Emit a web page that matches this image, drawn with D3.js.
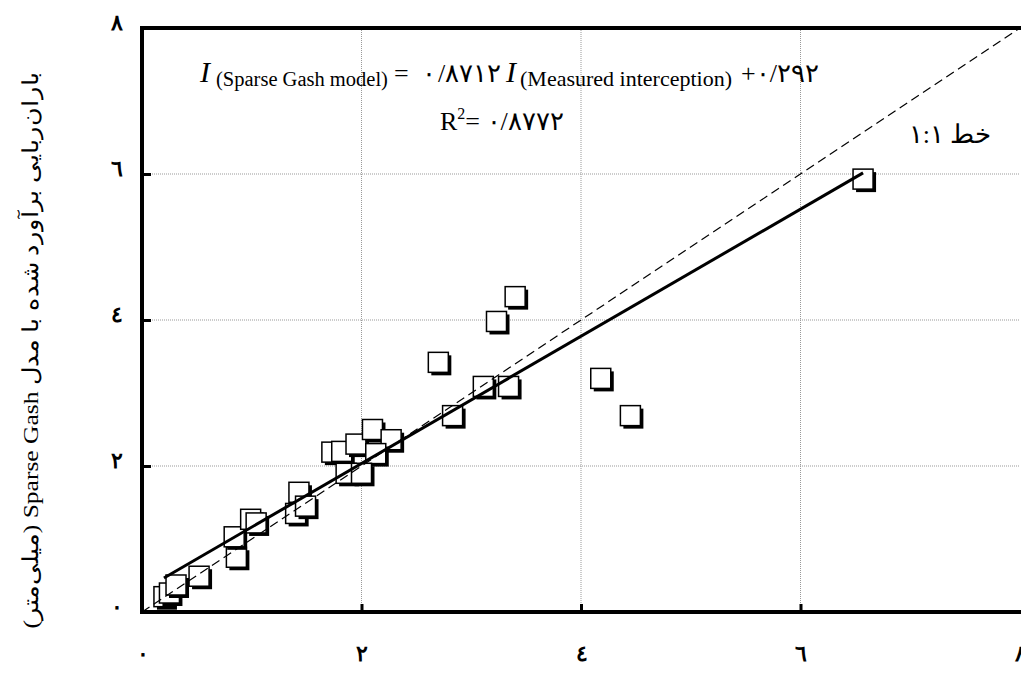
<!DOCTYPE html>
<html>
<head>
<meta charset="utf-8">
<script src="https://cdn.jsdelivr.net/npm/d3@7"></script>
<style>
  body { margin: 0; background: #fff; }
  svg { display: block; }
  text { font-family: "Liberation Serif", "DejaVu Serif", serif; }
</style>
</head>
<body>
<script>
"use strict";

// Data

const measured = [0.20, 0.25, 0.31, 0.52, 0.86, 0.84, 0.99, 1.04, 1.43, 1.40, 1.49,
    1.73, 1.82, 1.95, 2.10, 2.27, 2.13, 1.86, 2.00, 2.70, 3.23, 3.40, 3.11, 3.34,
    2.83, 4.18, 4.45, 6.57];
const modelled = [0.21, 0.26, 0.37, 0.49, 0.75, 1.03, 1.27, 1.22, 1.64, 1.35, 1.45,
    2.19, 2.20, 2.30, 2.50, 2.36, 2.17, 1.90, 1.90, 3.42, 3.98, 4.32, 3.09, 3.09,
    2.69, 3.20, 2.69, 5.93];
const slope = 0.8712;
const intercept = 0.292;
const r2Value = 0.8772;
const tickValues = [0, 2, 4, 6, 8];
const gridValues = [2, 4, 6];

const arabicDigits = '٠١٢٣٤٥٦٧٨٩';
const toArabic = v => String(v).replace(/[0-9]/g, c => arabicDigits[+c]);
// decimals written as ٠/٨٧١٢
const decimal = v => toArabic(String(v).replace('.', '/'));

// Size parameters

const width = 1021;
const height = 688;
const plotLeft = 142;
const plotRight = 1020;
const plotTop = 28;
const plotBottom = 612;
const boxSize = 20;
const shadow = 3;

const svg = d3.select('body')
    .append('svg')
    .attr('width', width)
    .attr('height', height);

const x = d3.scaleLinear().domain([0, 8]).range([plotLeft, plotRight]);
const y = d3.scaleLinear().domain([0, 8]).range([plotBottom, plotTop]);

/*********
 * Grid  *
 *********/

svg.append('g')
    .selectAll('line')
    .data(gridValues)
    .enter()
    .append('line')
    .attr('x1', d => x(d)).attr('x2', d => x(d))
    .attr('y1', plotTop).attr('y2', plotBottom)
    .attr('stroke', '#999')
    .attr('stroke-dasharray', '1,1');

svg.append('g')
    .selectAll('line')
    .data(gridValues)
    .enter()
    .append('line')
    .attr('x1', plotLeft).attr('x2', plotRight)
    .attr('y1', d => y(d)).attr('y2', d => y(d))
    .attr('stroke', '#999')
    .attr('stroke-dasharray', '1,1');

/**********
 * Points *
 **********/

const points = measured.map((m, i) => [m, modelled[i]]);

const pts = svg.append('g')
    .selectAll('g')
    .data(points)
    .enter()
    .append('g');

pts.append('rect')
    .attr('x', d => x(d[0]) - boxSize / 2 + shadow)
    .attr('y', d => y(d[1]) - boxSize / 2 + shadow)
    .attr('width', boxSize)
    .attr('height', boxSize)
    .attr('fill', 'black');

pts.append('rect')
    .attr('x', d => x(d[0]) - boxSize / 2)
    .attr('y', d => y(d[1]) - boxSize / 2)
    .attr('width', boxSize)
    .attr('height', boxSize)
    .attr('fill', 'white')
    .attr('stroke', 'black')
    .attr('stroke-width', 1.5);

/*********
 * Lines *
 *********/

// 1:1 line
svg.append('line')
    .attr('x1', x(0)).attr('y1', y(0))
    .attr('x2', x(8)).attr('y2', y(8))
    .attr('stroke', 'black')
    .attr('stroke-width', 1.2)
    .attr('stroke-dasharray', '9,5');

// regression line
const [xMin, xMax] = d3.extent(measured);
svg.append('line')
    .attr('x1', x(xMin)).attr('y1', y(slope * xMin + intercept))
    .attr('x2', x(xMax)).attr('y2', y(slope * xMax + intercept))
    .attr('stroke', 'black')
    .attr('stroke-width', 3);

/********
 * Axes *
 ********/

// inner tick marks
svg.append('g')
    .attr('transform', `translate(0,${plotBottom})`)
    .call(d3.axisBottom(x).tickValues(gridValues).tickSize(-8).tickFormat(''))
    .call(g => g.select('.domain').remove())
    .call(g => g.selectAll('line').attr('stroke-width', 3));

svg.append('g')
    .attr('transform', `translate(${plotLeft},0)`)
    .call(d3.axisLeft(y).tickValues(gridValues).tickSize(-9).tickFormat(''))
    .call(g => g.select('.domain').remove())
    .call(g => g.selectAll('line').attr('stroke-width', 3));

// tick labels
svg.append('g')
    .attr('transform', `translate(0,642)`)
    .call(d3.axisBottom(x).tickValues(tickValues).tickSize(0).tickFormat(toArabic))
    .call(g => g.select('.domain').remove())
    .call(g => g.selectAll('text')
        .attr('font-family', '"Liberation Serif", serif')
        .attr('font-size', 22)
        .attr('font-weight', 'bold'));

svg.append('g')
    .attr('transform', `translate(126,0)`)
    .call(d3.axisLeft(y).tickValues(tickValues).tickSize(0).tickFormat(toArabic))
    .call(g => g.select('.domain').remove())
    .call(g => g.selectAll('text')
        .attr('font-family', '"Liberation Serif", serif')
        .attr('font-size', 22)
        .attr('font-weight', 'bold')
        .attr('dy', '0.05em'));

// frame (left, top, bottom; right side runs off the page)
svg.append('path')
    .attr('d', `M${plotRight + 4},${plotTop} L${plotLeft},${plotTop} L${plotLeft},${plotBottom} L${plotRight + 4},${plotBottom}`)
    .attr('fill', 'none')
    .attr('stroke', 'black')
    .attr('stroke-width', 4);

/********
 * Text *
 ********/

// regression equation, kept in left-to-right order
const eq = svg.append('text')
    .attr('y', 82)
    .attr('font-size', 26)
    .attr('direction', 'ltr')
    .style('unicode-bidi', 'bidi-override');

eq.append('tspan').attr('x', 200).attr('font-style', 'italic').attr('font-size', 30).text('I');
eq.append('tspan').attr('x', 216).attr('y', 86).attr('font-size', 20.5).text('(Sparse Gash model)');
eq.append('tspan').attr('x', 394).attr('y', 82).text('=');
eq.append('tspan').attr('x', 422).text(toArabic('0'));
eq.append('tspan').attr('x', 438).text(decimal(slope).slice(1));
eq.append('tspan').attr('x', 506).attr('font-style', 'italic').attr('font-size', 30).text('I');
eq.append('tspan').attr('x', 520).attr('y', 86).attr('font-size', 22).text('(Measured interception)');
eq.append('tspan').attr('x', 741).attr('y', 82).text('+' + decimal(intercept));

const r2 = svg.append('text')
    .attr('x', 440)
    .attr('y', 130)
    .attr('font-size', 26)
    .style('unicode-bidi', 'bidi-override')
    .attr('direction', 'ltr');
r2.append('tspan').text('R');
r2.append('tspan').attr('font-size', 16).attr('dy', -11).text('2');
r2.append('tspan').attr('dy', 11).text('= ' + decimal(r2Value));

svg.append('text')
    .attr('x', 950)
    .attr('y', 143)
    .attr('font-size', 26)
    .attr('text-anchor', 'middle')
    .attr('direction', 'rtl')
    .text('خط ' + toArabic('1') + ':' + toArabic('1'));

// y axis title, stretched along its length like the reference
svg.append('text')
    .attr('transform', 'translate(38,350) rotate(-90) scale(1.16,1)')
    .attr('text-anchor', 'middle')
    .attr('font-size', 22)
    .attr('direction', 'rtl')
    .text('باران‌ربایی برآورد شده با مدل Sparse Gash (میلی‌متر)');
</script>
</body>
</html>
